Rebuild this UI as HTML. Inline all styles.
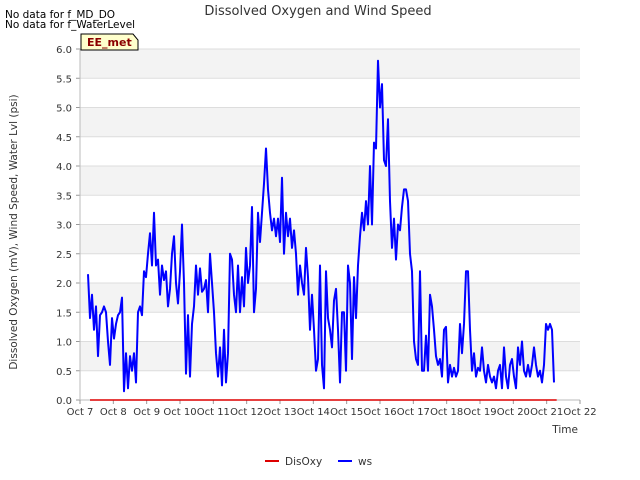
<!DOCTYPE html>
<html><head><meta charset="utf-8"><style>
body{margin:0;background:#fff;font-family:"DejaVu Sans","Liberation Sans",sans-serif;}
#c{position:absolute;left:0;top:0;}
text{font-family:"DejaVu Sans","Liberation Sans",sans-serif;}
</style></head><body>
<svg id="c" width="640" height="480" viewBox="0 0 640 480" xmlns="http://www.w3.org/2000/svg">
<g id="bands"></g>
<g id="grid"></g>
<g id="axes"></g>
<g id="series"></g>
<text x="318" y="15" font-size="13" fill="#333" text-anchor="middle">Dissolved Oxygen and Wind Speed</text>
<text x="5" y="18" font-size="10.5" fill="#000">No data for f_MD_DO</text>
<text x="5" y="28" font-size="10.5" fill="#000">No data for f_WaterLevel</text>
<g>
<path d="M81,34 L133,34 L138,40 L138,50 L81,50 Z" fill="#ffffcc" stroke="#000" stroke-width="1"/>
<text x="87" y="46" font-size="11" font-weight="bold" fill="#8b0000">EE_met</text>
</g>
<text x="17" y="232" font-size="10.5" fill="#333" text-anchor="middle" transform="rotate(-90 17 232)">Dissolved Oxygen (mV), Wind Speed, Water Lvl (psi)</text>
<text x="578" y="433" font-size="10.5" fill="#333" text-anchor="end">Time</text>
<g>
<g><line x1="265" y1="461" x2="279" y2="461" stroke="#dd0000" stroke-width="2"/><text x="285" y="465" font-size="10.5" fill="#333">DisOxy</text></g>
<g><line x1="338" y1="461" x2="352" y2="461" stroke="#0000ff" stroke-width="2"/><text x="358" y="465" font-size="10.5" fill="#333">ws</text></g>
</g>
</svg>
<script>
const xTickLabels=["Oct 7","Oct 8","Oct 9","Oct 10","Oct 11","Oct 12","Oct 13","Oct 14","Oct 15","Oct 16","Oct 17","Oct 18","Oct 19","Oct 20","Oct 21","Oct 22"];
const yTicks=[0,0.5,1,1.5,2,2.5,3,3.5,4,4.5,5,5.5,6];
const wsStartDay=0.24;
const wsStepDay=0.06;
const wsValues=[2.15,1.4,1.8,1.2,1.6,0.75,1.45,1.5,1.6,1.5,1.0,0.6,1.4,1.05,1.3,1.45,1.5,1.75,0.15,0.8,0.2,0.75,0.5,0.8,0.3,1.5,1.6,1.45,2.2,2.1,2.5,2.85,2.3,3.2,2.3,2.4,1.8,2.3,2.05,2.2,1.6,1.9,2.5,2.8,2.0,1.65,2.2,3.0,2.0,0.45,1.45,0.4,1.3,1.6,2.3,1.8,2.25,1.85,1.9,2.05,1.5,2.5,2.0,1.5,0.8,0.4,0.9,0.25,1.2,0.3,0.8,2.5,2.4,1.8,1.5,2.3,1.5,2.1,1.6,2.6,2.0,2.3,3.3,1.5,1.9,3.2,2.7,3.2,3.7,4.3,3.6,3.2,2.9,3.1,2.8,3.1,2.7,3.8,2.5,3.2,2.8,3.1,2.6,2.9,2.5,1.8,2.3,2.0,1.8,2.6,2.1,1.2,1.8,1.2,0.5,0.7,2.3,0.6,0.2,2.2,1.4,1.2,0.9,1.7,1.9,1.2,0.3,1.5,1.5,0.5,2.3,2.0,0.7,2.1,1.4,2.3,2.8,3.2,2.9,3.4,3.0,4.0,3.0,4.4,4.3,5.8,5.0,5.4,4.1,4.0,4.8,3.4,2.6,3.1,2.4,3.0,2.9,3.3,3.6,3.6,3.4,2.5,2.2,1.0,0.7,0.6,2.2,0.5,0.5,1.1,0.5,1.8,1.6,1.2,0.75,0.6,0.7,0.4,1.2,1.25,0.3,0.6,0.4,0.55,0.4,0.5,1.3,0.8,1.3,2.2,2.2,1.2,0.5,0.8,0.4,0.55,0.5,0.9,0.5,0.3,0.6,0.4,0.3,0.4,0.2,0.5,0.6,0.2,0.9,0.4,0.2,0.6,0.7,0.4,0.2,0.9,0.6,1.0,0.5,0.4,0.6,0.4,0.6,0.9,0.6,0.4,0.5,0.3,0.6,1.3,1.2,1.3,1.2,0.3];
const disoxyDays=[0.3,14.3];
const disoxyValues=[0,0];

const X0=80,X1=580,Y0=400,Y1=49,DMAX=15,VMAX=6;
const xs=d=>X0+(X1-X0)*d/DMAX;
const ys=v=>Y0-(Y0-Y1)*v/VMAX;
const NS="http://www.w3.org/2000/svg";
function mk(tag,attrs,parent){const e=document.createElementNS(NS,tag);for(const k in attrs)e.setAttribute(k,attrs[k]);parent.appendChild(e);return e;}
const bands=document.getElementById('bands'),grid=document.getElementById('grid'),axes=document.getElementById('axes'),series=document.getElementById('series');
for(let i=0;i<yTicks.length-1;i++){
  if(i%2===1){const r=mk('rect',{x:X0,y:ys(yTicks[i+1]),width:X1-X0,height:ys(yTicks[i])-ys(yTicks[i+1]),fill:'#f3f3f3'},bands);
  
  }
}
yTicks.forEach(v=>{
  const l=mk('line',{x1:X0,x2:X1,y1:ys(v),y2:ys(v),stroke:'#dddddd','stroke-width':1},grid);
  
  
  const t=mk('text',{x:X0-8,y:ys(v)+4,'font-size':10,fill:'#333','text-anchor':'end'},axes);
  t.textContent=v.toFixed(1);
  
  
  mk('line',{x1:X0-4,x2:X0,y1:ys(v),y2:ys(v),stroke:'#999'},axes);
});
mk('line',{x1:X0,x2:X0,y1:Y1,y2:Y0,stroke:'#bbb'},axes);
mk('line',{x1:X0,x2:X1,y1:Y0,y2:Y0,stroke:'#bbb'},axes);
xTickLabels.forEach((s,i)=>{
  mk('line',{x1:xs(i),x2:xs(i),y1:Y0,y2:Y0+4,stroke:'#999'},axes);
  const t=mk('text',{x:xs(i),y:Y0+15,'font-size':10,fill:'#333','text-anchor':'middle'},axes);
  t.textContent=s;
  
  
});
const dp=disoxyDays.map((d,i)=>xs(d)+','+ys(disoxyValues[i])).join(' ');
const dl=mk('polyline',{points:dp,fill:'none',stroke:'#dd0000','stroke-width':1.5},series);


const wp=wsValues.map((v,i)=>xs(wsStartDay+i*wsStepDay)+','+ys(v)).join(' ');
const wl=mk('polyline',{points:wp,fill:'none',stroke:'#0000ff','stroke-width':2,'stroke-linejoin':'round'},series);


</script>
</body></html>
